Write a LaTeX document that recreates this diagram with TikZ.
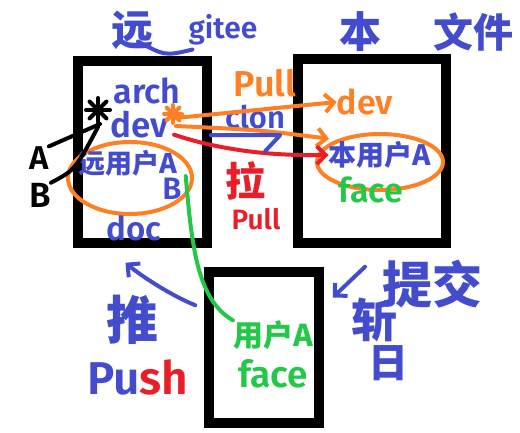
\documentclass[tikz,border=0pt]{standalone}
\usepackage{fontspec}
\setmainfont{Fira Sans}[BoldFont={Fira Sans SemiBold}]
\newfontfamily\cjk{Noto Sans CJK SC}
\usetikzlibrary{arrows.meta, positioning, calc, shapes.geometric}
\definecolor{cBlue}{RGB}{66,76,204}
\definecolor{cOrange}{RGB}{255,128,36}
\definecolor{cRed}{RGB}{232,30,40}
\definecolor{cGreen}{RGB}{36,200,72}
\tikzset{
	frame/.style   ={rectangle, draw=black, line width=9.5pt, fill=white, inner sep=0pt},
	loop/.style    ={ellipse, draw=cOrange, line width=4pt, inner sep=0pt},
	pen/.style     ={line width=4pt, line cap=round, line join=round},
	penarrow/.style={pen, -{Straight Barb[length=9pt, width=18pt]}},
}

\begin{document}
\begin{tikzpicture}[x=1pt, y=-1pt]
	\useasboundingbox (0,0) rectangle (520,432);
	% the three files
	\node[frame, minimum width=129pt, minimum height=182pt] (remote) at (142.5,152) {};
	\node[frame, minimum width=148pt, minimum height=184pt] (local) at (372,151) {};
	\node[frame, minimum width=110pt, minimum height=151pt] (work) at (264,347.5) {};
	\node[loop, minimum width=124pt, minimum height=72pt] (loopR) at (130,178) {};
	\node[loop, minimum width=126pt, minimum height=56pt] (loopL) at (380,162) {};
	% handwritten labels
	\foreach \n/\x/\y/\c/\s/\t in {
		tRemote/132/30/cBlue/42/{\cjk 远},
		tGitee/223/30/cBlue/30/{gitee},
		tLocal/360/32/cBlue/42/{\cjk 本},
		tFile/473/32/cBlue/40/{\cjk 文件},
		arch/147/91/cBlue/34/{arch},
		devR/139/125/cBlue/35/{dev},
		userR/128/163/cBlue/27/{\cjk 远用户A},
		userB/172/189/cBlue/31/{B},
		doc/134/228/cBlue/33/{doc},
		pullO/265/83/cOrange/36/{Pull},
		clon/255/117/cBlue/31/{clon},
		la/245/181/cRed/40/{\cjk 拉},
		pullR/256/219/cRed/28/{Pull},
		devL/365/102/cOrange/34/{dev},
		userL/380/155/cBlue/28/{\cjk 本用户A},
		faceL/371/190/cGreen/34/{face},
		userW/273/335/cGreen/30/{\cjk 用户A},
		faceW/273/374/cGreen/37/{face},
		tui/132/320/cBlue/52/{\cjk 推},
		push/138/377/cBlue/46/{Pu\textcolor{cRed}{sh}},
		tijiao/432/284/cBlue/50/{\cjk 提交},
		zan/374/320/cBlue/46/{\cjk 斩},
		ri/388/363/cBlue/40/{\cjk 日},
		kA/39/158/black/33/{A},
		kB/40/195/black/35/{B}} {
		\node[inner sep=0pt, text=\c, font=\fontsize{\s}{\s}\selectfont\bfseries] (\n) at (\x,\y) {\t};
	}
	% stars
	\coordinate (starK) at (98,110);
	\coordinate (starO) at (173,114);
	\foreach \a in {0,45,90,135} {
		\draw[pen] ($(starK)+(\a:12)$) -- ($(starK)+(\a+180:12)$);
		\draw[pen, cOrange] ($(starO)+(\a:9)$) -- ($(starO)+(\a+180:9)$);
	}
	% strokes and connectors
	\draw[pen, cBlue] ($(tRemote.south)+(6,-8)$) .. controls (165,56) .. ($(tGitee.south west)+(4,4)$);
	\draw[pen] (kA.north east) -- ($(starK)+(2,14)$);
	\draw[pen] (kB.north east) .. controls (75,170) .. ($(starK)+(0,17)$);
	\draw[penarrow, cOrange] ($(starO)+(3,4)$) -- (devL.west);
	\draw[penarrow, cOrange] ($(starO)+(3,12)$) .. controls (260,130) .. ($(loopL.north west)+(-5,-2)$);
	\draw[penarrow, cRed] ($(devR.south east)+(6,-4)$) .. controls (220,150) and (270,156) .. (userL.west);
	\draw[pen, cBlue] ($(clon.south west)+(-14,6)$) -- ($(clon.south east)+(-5,6)$) -- ($(clon.south east)+(-20,22)$);
	\draw[pen, cGreen] ($(userB.north east)+(4,-2)$) .. controls (192,250) and (198,300) .. (userW.north west);
	\draw[penarrow, cBlue] ($(work.north west)+(-9,38)$) .. controls (170,295) and (140,275) .. ($(remote.south)+(-17,15)$);
	\draw[penarrow, cBlue] ($(local.south)+(-7,19)$) -- ($(work.east)+(9,-50)$);
\end{tikzpicture}
\end{document}
